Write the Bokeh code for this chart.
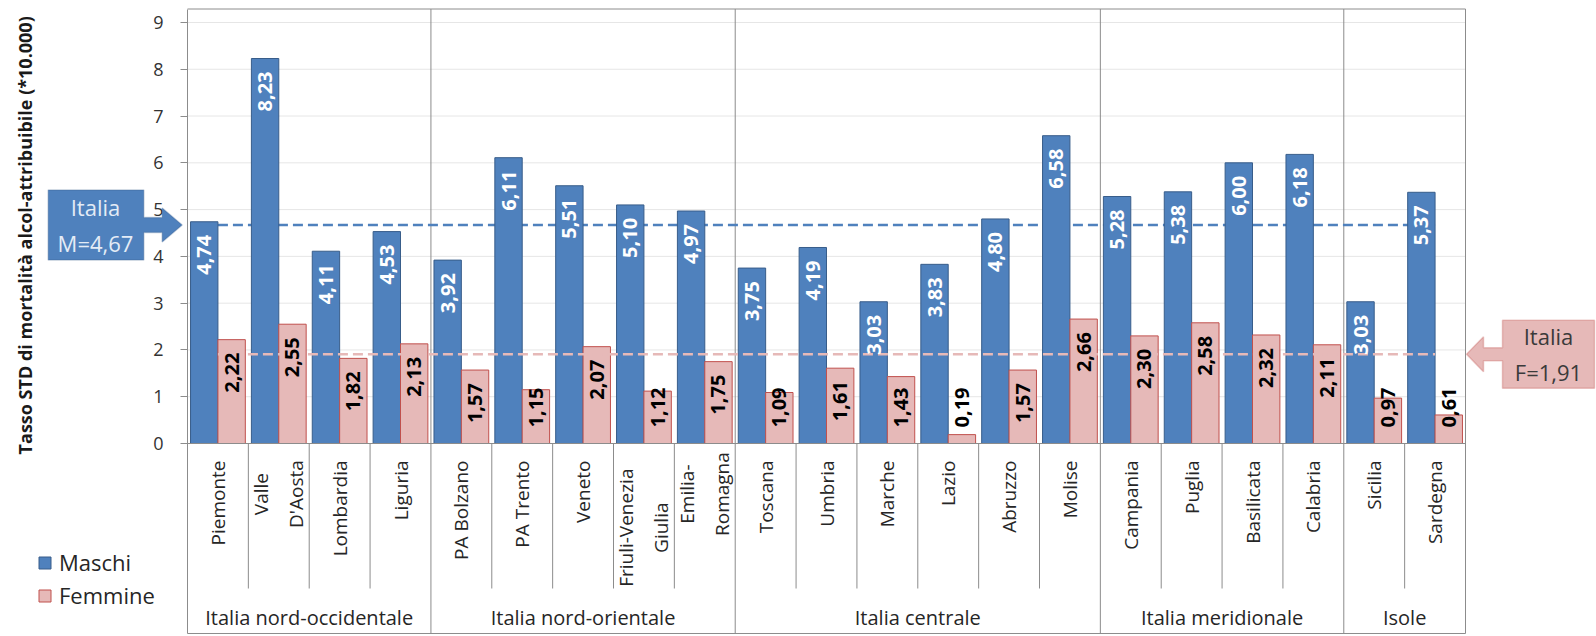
import math
from bokeh.plotting import figure
from bokeh.models import (Range1d, FixedTicker, Label, PolyAnnotation, Legend,
                          LegendItem, ColumnDataSource, LinearAxis)
from bokeh.core.properties import value
from bokeh.embed import file_html
from bokeh.resources import INLINE

# ---------------- data ----------------
regions = ["Piemonte", "Valle\nD'Aosta", "Lombardia", "Liguria",
           "PA Bolzano", "PA Trento", "Veneto", "Friuli-Venezia\nGiulia", "Emilia-\nRomagna",
           "Toscana", "Umbria", "Marche", "Lazio", "Abruzzo", "Molise",
           "Campania", "Puglia", "Basilicata", "Calabria",
           "Sicilia", "Sardegna"]
groups = ["Italia nord-occidentale", "Italia nord-orientale", "Italia centrale",
          "Italia meridionale", "Isole"]
group_sizes = [4, 5, 6, 4, 2]
maschi = [4.74, 8.23, 4.11, 4.53, 3.92, 6.11, 5.51, 5.10, 4.97, 3.75, 4.19,
          3.03, 3.83, 4.80, 6.58, 5.28, 5.38, 6.00, 6.18, 3.03, 5.37]
femmine = [2.22, 2.55, 1.82, 2.13, 1.57, 1.15, 2.07, 1.12, 1.75, 1.09, 1.61,
           1.43, 0.19, 1.57, 2.66, 2.30, 2.58, 2.32, 2.11, 0.97, 0.61]
italia_m = 4.67
italia_f = 1.91
y_ticks = [0, 1, 2, 3, 4, 5, 6, 7, 8, 9]
series_names = ["Maschi", "Femmine"]
y_title = "Tasso STD di mortalità alcol-attribuibile  (*10.000)"

# ---------------- layout ----------------
FONT = "Open Sans"
W, H = 1596, 636
N = len(regions)
PXX = 1278 / N          # px per category
PXY = 46.78             # px per unit
X0 = 187                # screen x of category 0 edge
Y0 = 443                # screen y of value 0


def dx(px):
    return px / PXX


def dy(px):
    return px / PXY


def fmt(v):
    return f"{v:.2f}".replace(".", ",")


X_START, X_END = -dx(X0), dx(W - X0)
Y_TOP, Y_BOT = dy(Y0), -dy(H - Y0)
BOX_TOP, BOX_BOT = dy(Y0 - 8.5), -dy(633 - Y0)

BLUE, BLUE_D = "#4F81BD", "#385D8A"
PINK, PINK_D = "#E6B9B8", "#C0504D"
GRID_C = "#8C8C8C"
TXT = "#262626"

p = figure(width=W, height=H, x_range=Range1d(X_START, X_END),
           y_range=Range1d(Y_BOT, Y_TOP), output_backend="svg",
           toolbar_location=None, x_axis_type=None, y_axis_type=None,
           min_border_left=0, min_border_right=0, min_border_top=0, min_border_bottom=0)
p.outline_line_color = None
p.xgrid.visible = False
p.ygrid.visible = False

yaxis = LinearAxis(fixed_location=0, ticker=FixedTicker(ticks=y_ticks),
                   bounds=(BOX_BOT, BOX_TOP))
yaxis.minor_tick_line_color = None
yaxis.major_tick_out = 7
yaxis.major_tick_in = 0
yaxis.axis_line_color = GRID_C
yaxis.major_tick_line_color = GRID_C
yaxis.major_label_text_font = FONT
yaxis.major_label_text_font_size = "18px"
yaxis.major_label_text_color = "#333333"
yaxis.major_label_standoff = 17
p.add_layout(yaxis, "left")

centers = [i + 0.5 for i in range(N)]
BAR_W = 0.45
OFF = 0.225

# gridlines
gy = [t for t in y_ticks if t > 0]
p.segment(x0=[0] * len(gy), y0=gy, x1=[N] * len(gy), y1=gy,
          line_color="#E6E6E6", line_width=1)

# box, group boundaries and category dividers
bounds = []
acc = 0
for s in group_sizes[:-1]:
    acc += s
    bounds.append(acc)
vb = bounds + [N]
p.segment(x0=vb, y0=[BOX_BOT] * len(vb), x1=vb, y1=[BOX_TOP] * len(vb),
          line_color=GRID_C, line_width=1)
p.segment(x0=[0, 0], y0=[BOX_TOP, BOX_BOT], x1=[N, N], y1=[BOX_TOP, BOX_BOT],
          line_color=GRID_C, line_width=1)
cat_div = [b for b in range(1, N) if b not in bounds]
p.segment(x0=cat_div, y0=[0] * len(cat_div), x1=cat_div, y1=[-dy(145)] * len(cat_div),
          line_color=GRID_C, line_width=1)

# average line (men)
p.line(x=[centers[0], centers[-1]], y=[italia_m, italia_m], line_color=BLUE,
       line_width=2.5, line_dash="10 5")

LBL_MIN = dy(69)
src = ColumnDataSource(dict(
    xm=[c - OFF for c in centers], xf=[c + OFF for c in centers],
    maschi=maschi, femmine=femmine,
    lm=[fmt(v) for v in maschi], lf=[fmt(v) for v in femmine],
    ym=[max(v, LBL_MIN) for v in maschi], yf=[max(v, LBL_MIN) for v in femmine],
))
rm = p.vbar(x="xm", top="maschi", bottom=0, width=BAR_W, source=src,
            fill_color=BLUE, line_color=BLUE_D, line_width=1)
rf = p.vbar(x="xf", top="femmine", bottom=0, width=BAR_W, source=src,
            fill_color=PINK, line_color=PINK_D, line_width=1)

# average line (women)
p.line(x=[centers[0], centers[-1]], y=[italia_f, italia_f], line_color=PINK,
       line_width=2.5, line_dash="10 5")

# baseline
p.segment(x0=[0], y0=[0], x1=[N], y1=[0], line_color=GRID_C, line_width=1)

# bar labels
p.text(x="xm", y="ym", text="lm", source=src, angle=math.pi / 2, y_offset=13,
       text_align="right", text_baseline="middle", text_color="white",
       text_font=value(FONT), text_font_size="20px", text_font_style="bold")
p.text(x="xf", y="yf", text="lf", source=src, angle=math.pi / 2, y_offset=13,
       text_align="right", text_baseline="middle", text_color="black",
       text_font=value(FONT), text_font_size="20px", text_font_style="bold")

# category labels
single_x = [c for c, r in zip(centers, regions) if "\n" not in r]
single_t = [r for r in regions if "\n" not in r]
multi_x = [c for c, r in zip(centers, regions) if "\n" in r]
multi_t = [r for r in regions if "\n" in r]
multi_y = [-dy(17 + max(len(l) for l in r.split("\n")) * 9.6 / 2) for r in multi_t]
p.text(x=single_x, y=[-dy(17)] * len(single_x), text=single_t, angle=math.pi / 2,
       text_align="right", text_baseline="middle", text_color=TXT,
       text_font=value(FONT), text_font_size="19px")
p.text(x=multi_x, y=multi_y, text=multi_t, angle=math.pi / 2,
       text_align="center", text_baseline="middle", text_color=TXT,
       text_font=value(FONT), text_font_size="19px", text_line_height=1.35)

# group labels
gx = []
acc = 0
for s in group_sizes:
    gx.append(acc + s / 2)
    acc += s
p.text(x=gx, y=[-dy(174)] * len(gx), text=groups, text_align="center",
       text_baseline="middle", text_color=TXT, text_font=value(FONT),
       text_font_size="20px")

# y title
p.add_layout(Label(x=-dx(163), y=4.5, text=y_title, angle=math.pi / 2,
                   text_align="center", text_baseline="middle", text_font=FONT,
                   text_font_size="18px", text_font_style="bold", text_color="#1A1A1A"))

# callouts
lx = [-139.3, -43.7, -43.7, -25.3, -25.3, -5.3, -25.3, -25.3, -43.7, -43.7, -139.3]
ly = [35, 35, 7.5, 7.5, 17, 0, -17, -7.5, -7.5, -35, -35]
p.add_layout(PolyAnnotation(xs=[dx(v) for v in lx], ys=[italia_m + dy(v) for v in ly],
                            fill_color=BLUE, fill_alpha=1, line_color=BLUE_D, line_width=1.5))
p.add_layout(Label(x=-dx(92), y=italia_m, text="Italia\nM=" + fmt(italia_m),
                   text_align="center", text_baseline="middle", text_font=FONT,
                   text_font_size="22px", text_color="#E4ECF6", text_line_height=1.18))
rx = [129, 37, 37, 18, 18, 1, 18, 18, 37, 37, 129]
ry = [34, 34, 6.5, 6.5, 17.5, 0, -17.5, -6.5, -6.5, -34, -34]
p.add_layout(PolyAnnotation(xs=[N + dx(v) for v in rx], ys=[italia_f + dy(v) for v in ry],
                            fill_color=PINK, fill_alpha=1, line_color=PINK_D, line_width=1.5))
p.add_layout(Label(x=N + dx(83), y=italia_f, text="Italia\nF=" + fmt(italia_f),
                   text_align="center", text_baseline="middle", text_font=FONT,
                   text_font_size="22px", text_color="#3A3A3A", text_line_height=1.18))

# legend
legend = Legend(items=[LegendItem(label=series_names[0], renderers=[rm]),
                       LegendItem(label=series_names[1], renderers=[rf])],
                location=(37, 26))
legend.label_text_font = FONT
legend.label_text_font_size = "22px"
legend.label_text_color = TXT
legend.glyph_width = 15
legend.glyph_height = 15
legend.label_height = 28
legend.label_standoff = 7
legend.spacing = 3
legend.padding = 0
legend.margin = 0
legend.border_line_alpha = 0
legend.background_fill_alpha = 0
p.add_layout(legend)

open("out.html", "w").write(file_html(p, INLINE))
